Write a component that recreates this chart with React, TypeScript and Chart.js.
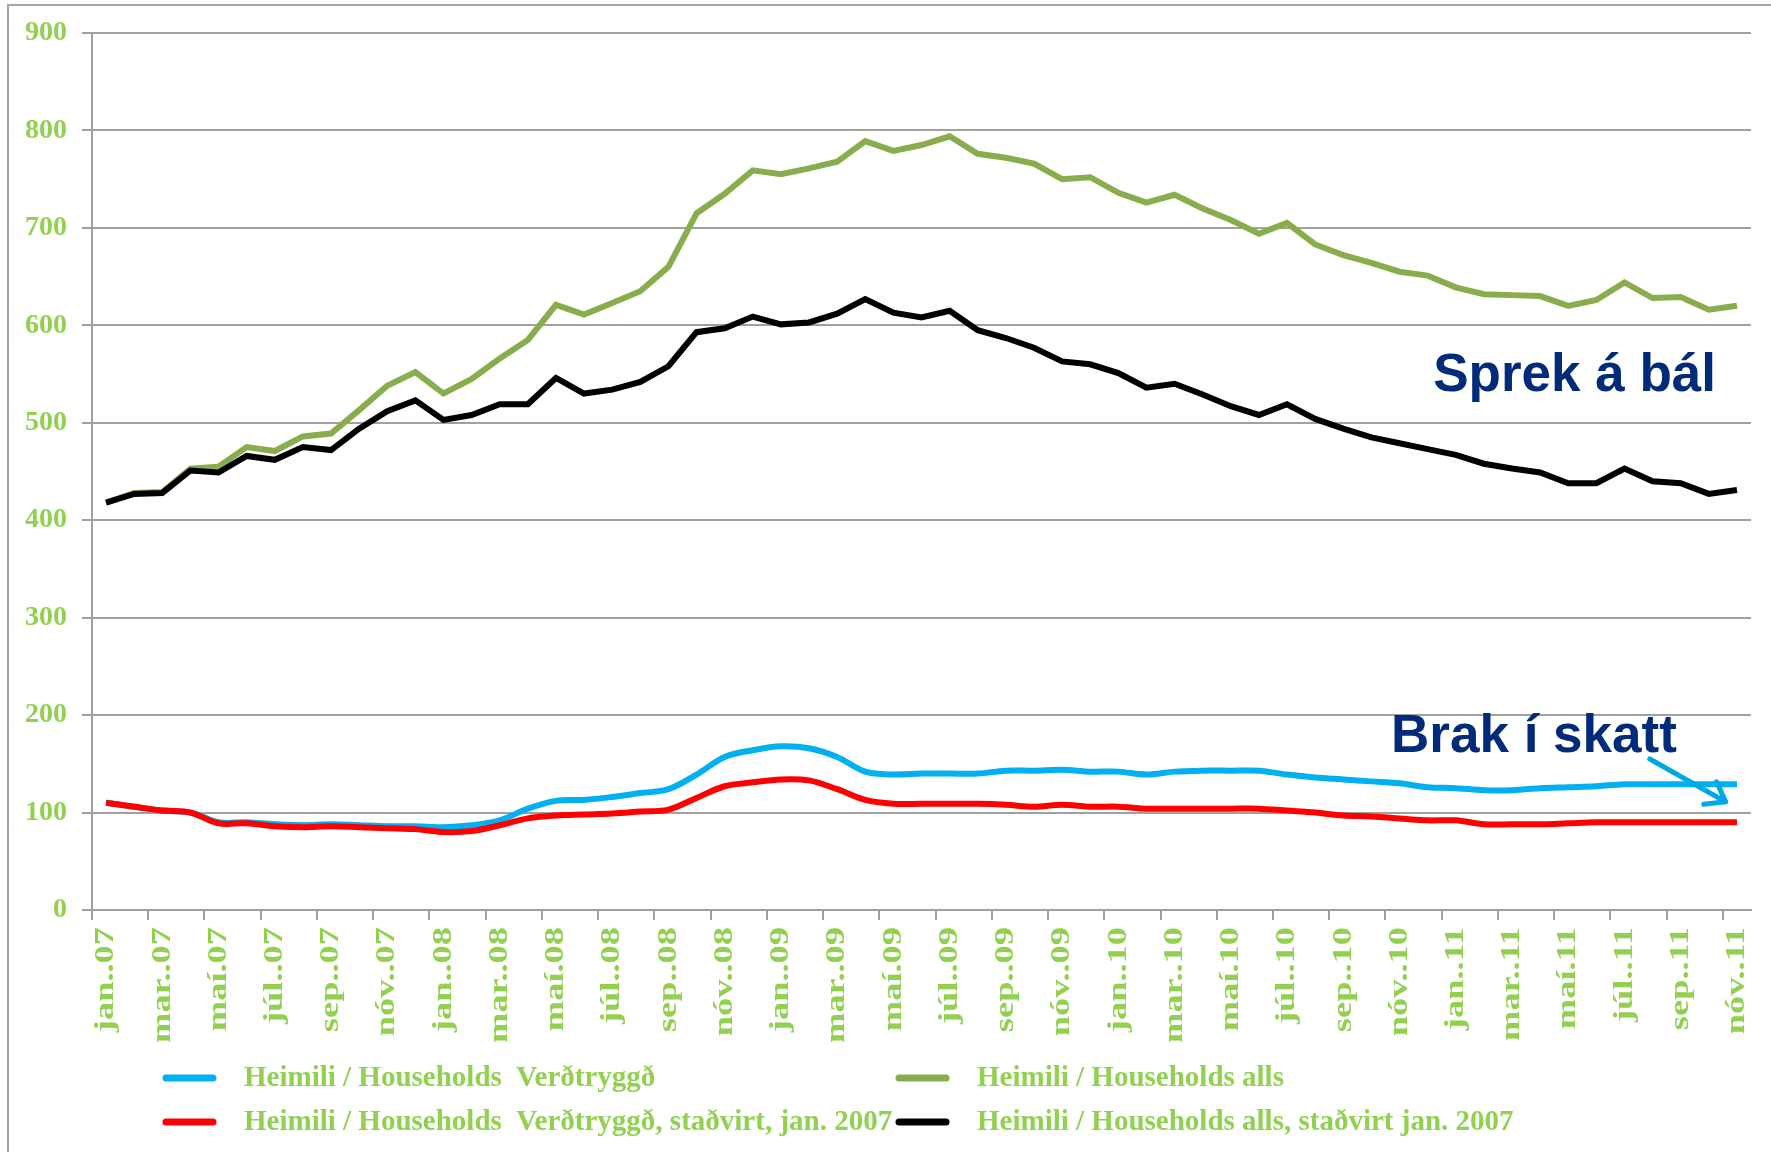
import React, { useEffect, useRef } from 'react';
import { Chart, registerables } from 'chart.js';

Chart.register(...registerables);

// ---- Data ----
const MONTHS = ['jan.', 'feb.', 'mar.', 'apr.', 'maí', 'jún.', 'júl.', 'ágú.', 'sep.', 'okt.', 'nóv.', 'des.'];
const YEARS = ['07', '08', '09', '10', '11'];
const LABELS = YEARS.flatMap((y) => MONTHS.map((m) => `${m}.${y}`)).slice(0, 59);

const ALLS = [
  418, 428, 429, 453, 455, 475, 471, 486, 489, 513, 538, 552, 530, 545, 566, 585, 621, 611, 623, 635,
  660, 715, 735, 759, 755, 761, 768, 789, 779, 785, 794, 776, 772, 766, 750, 752, 736, 726, 734, 720,
  708, 694, 705, 683, 672, 664, 655, 651, 639, 632, 631, 630, 620, 626, 644, 628, 629, 616, 620,
];
const ALLS_STADVIRT = [
  418, 427, 428, 451, 449, 466, 462, 475, 472, 494, 512, 523, 503, 508, 519, 519, 546, 530, 534, 542,
  558, 593, 597, 609, 601, 603, 612, 627, 613, 608, 615, 595, 587, 577, 563, 560, 551, 536, 540, 529,
  517, 508, 519, 504, 494, 485, 479, 473, 467, 458, 453, 449, 438, 438, 453, 440, 438, 427, 431,
];
const VERDTRYGGD = [
  110, 106, 102, 100, 90, 90, 88, 87, 88, 87, 86, 86, 85, 87, 92, 104, 112, 113, 116, 120,
  124, 139, 157, 164, 168, 166, 157, 142, 139, 140, 140, 140, 143, 143, 144, 142, 142, 139, 142, 143,
  143, 143, 139, 136, 134, 132, 130, 126, 125, 123, 123, 125, 126, 127, 129, 129, 129, 129, 129,
];
const VERDTRYGGD_STADVIRT = [
  110, 106, 102, 100, 89, 89, 86, 85, 86, 85, 84, 83, 80, 81, 87, 94, 97, 98, 99, 101,
  103, 115, 127, 131, 134, 133, 124, 113, 109, 109, 109, 109, 108, 106, 108, 106, 106, 104, 104, 104,
  104, 104, 102, 100, 97, 96, 94, 92, 92, 88, 88, 88, 89, 90, 90, 90, 90, 90, 90,
];

const NAME_VERD = 'Heimili / Households  Verðtryggð';
const NAME_ALLS = 'Heimili / Households alls';
const NAME_VERD_ST = 'Heimili / Households  Verðtryggð, staðvirt, jan. 2007';
const NAME_ALLS_ST = 'Heimili / Households alls, staðvirt jan. 2007';

const ANNOT_TOP = 'Sprek á bál';
const ANNOT_BOTTOM = 'Brak í skatt';

const Y_MIN = 0;
const Y_MAX = 900;
const Y_STEP = 100;

// ---- Styles ----
const C_GREEN = '#89AD4C';
const C_BLACK = '#000000';
const C_BLUE = '#00B0F0';
const C_RED = '#FF0000';
const C_TEXT = '#92D050';
const C_GRID = '#A0A0A0';
const C_NAVY = '#002A7A';
const C_ARROW = '#00A8E4';
const SERIF = "'Liberation Serif', 'Times New Roman', serif";
const SANS = "'Liberation Sans', Arial, sans-serif";

export default function App() {
  const canvasRef = useRef<HTMLCanvasElement | null>(null);

  useEffect(() => {
    const canvas = canvasRef.current;
    if (!canvas) return;

    const framePlugin = {
      id: 'frame',
      beforeDraw(chart: any) {
        const ctx = chart.ctx;
        ctx.save();
        ctx.fillStyle = '#ffffff';
        ctx.fillRect(0, 0, chart.width, chart.height);
        ctx.strokeStyle = '#A6A6A6';
        ctx.lineWidth = 2;
        ctx.beginPath();
        ctx.moveTo(8, chart.height);
        ctx.lineTo(8, 5);
        ctx.lineTo(chart.width, 5);
        ctx.stroke();
        ctx.restore();
      },
    };

    const xLabelPlugin = {
      id: 'xLabels',
      afterDraw(chart: any) {
        const ctx = chart.ctx;
        const xs = chart.scales.x;
        const yTop = chart.chartArea.bottom + 17;
        ctx.save();
        ctx.fillStyle = C_TEXT;
        ctx.font = `bold 28px ${SERIF}`;
        ctx.textAlign = 'right';
        ctx.textBaseline = 'middle';
        for (let i = 0; i < LABELS.length; i += 2) {
          const x = xs.getPixelForValue(i);
          ctx.save();
          ctx.translate(x, yTop);
          ctx.rotate(-Math.PI / 2);
          ctx.scale(1.3, 1);
          ctx.fillText(LABELS[i], 0, 0);
          ctx.restore();
        }
        ctx.restore();
      },
    };

    const annotationPlugin = {
      id: 'annotations',
      afterDraw(chart: any) {
        const ctx = chart.ctx;
        const xs = chart.scales.x;
        const ys = chart.scales.y;
        ctx.save();
        ctx.fillStyle = C_NAVY;
        ctx.font = `bold 53px ${SANS}`;
        ctx.textAlign = 'left';
        ctx.textBaseline = 'alphabetic';
        ctx.fillText(ANNOT_TOP, xs.getPixelForValue(47.2), ys.getPixelForValue(533));
        ctx.fillText(ANNOT_BOTTOM, xs.getPixelForValue(45.7), ys.getPixelForValue(162));

        const x1 = xs.getPixelForValue(54.9);
        const y1 = ys.getPixelForValue(155);
        const x2 = xs.getPixelForValue(57.6);
        const y2 = ys.getPixelForValue(111);
        const ang = Math.atan2(y2 - y1, x2 - x1);
        const len = 22;
        const spread = (36 * Math.PI) / 180;
        ctx.strokeStyle = C_ARROW;
        ctx.lineWidth = 5;
        ctx.lineCap = 'round';
        ctx.lineJoin = 'round';
        ctx.beginPath();
        ctx.moveTo(x1, y1);
        ctx.lineTo(x2, y2);
        ctx.moveTo(x2 - len * Math.cos(ang - spread), y2 - len * Math.sin(ang - spread));
        ctx.lineTo(x2, y2);
        ctx.lineTo(x2 - len * Math.cos(ang + spread), y2 - len * Math.sin(ang + spread));
        ctx.stroke();
        ctx.restore();
      },
    };

    const legendPlugin = {
      id: 'customLegend',
      afterDraw(chart: any) {
        const ctx = chart.ctx;
        const items = [
          { ds: 1, x: 166, y: 1078 },
          { ds: 3, x: 899, y: 1078 },
          { ds: 0, x: 166, y: 1122 },
          { ds: 2, x: 899, y: 1122 },
        ];
        ctx.save();
        ctx.font = `bold 29px ${SERIF}`;
        ctx.textBaseline = 'middle';
        ctx.textAlign = 'left';
        for (const it of items) {
          const d = chart.data.datasets[it.ds];
          ctx.strokeStyle = d.borderColor;
          ctx.lineWidth = 7;
          ctx.lineCap = 'round';
          ctx.beginPath();
          ctx.moveTo(it.x, it.y);
          ctx.lineTo(it.x + 47, it.y);
          ctx.stroke();
          ctx.fillStyle = C_TEXT;
          ctx.fillText(d.label, it.x + 78, it.y + 1);
        }
        ctx.restore();
      },
    };

    const chart = new Chart(canvas, {
      type: 'line',
      data: {
        labels: LABELS,
        datasets: [
          {
            label: NAME_VERD_ST,
            data: VERDTRYGGD_STADVIRT,
            borderColor: C_RED,
            backgroundColor: C_RED,
            borderWidth: 6,
            pointRadius: 0,
            tension: 0.35,
            fill: false,
          },
          {
            label: NAME_VERD,
            data: VERDTRYGGD,
            borderColor: C_BLUE,
            backgroundColor: C_BLUE,
            borderWidth: 6,
            pointRadius: 0,
            tension: 0.35,
            fill: false,
          },
          {
            label: NAME_ALLS_ST,
            data: ALLS_STADVIRT,
            borderColor: C_BLACK,
            backgroundColor: C_BLACK,
            borderWidth: 6,
            pointRadius: 0,
            tension: 0,
            fill: false,
          },
          {
            label: NAME_ALLS,
            data: ALLS,
            borderColor: C_GREEN,
            backgroundColor: C_GREEN,
            borderWidth: 6,
            pointRadius: 0,
            tension: 0,
            fill: false,
          },
        ],
      },
      options: {
        responsive: false,
        maintainAspectRatio: false,
        animation: false,
        events: [],
        layout: { padding: { left: 0, top: 33, right: 20, bottom: 0 } },
        plugins: {
          legend: { display: false },
          tooltip: { enabled: false },
          title: { display: false },
        },
        scales: {
          x: {
            type: 'category',
            offset: true,
            afterFit(scale: any) {
              scale.height = 242;
            },
            grid: {
              offset: true,
              drawOnChartArea: false,
              drawTicks: true,
              tickLength: 10,
              lineWidth: 2,
              color: (c: any) => (c.index % 2 === 0 ? C_GRID : 'rgba(0,0,0,0)'),
            },
            border: { display: true, color: C_GRID, width: 2 },
            ticks: { display: false, autoSkip: false },
          },
          y: {
            min: Y_MIN,
            max: Y_MAX,
            afterFit(scale: any) {
              scale.width = 92;
            },
            grid: {
              color: C_GRID,
              lineWidth: 2,
              tickLength: 10,
              drawTicks: true,
            },
            border: { display: true, color: C_GRID, width: 2 },
            ticks: {
              stepSize: Y_STEP,
              padding: 15,
              color: C_TEXT,
              font: { family: SERIF, size: 28, weight: 'bold' },
            },
          },
        },
      },
      plugins: [framePlugin, xLabelPlugin, annotationPlugin, legendPlugin],
    } as any);

    return () => {
      chart.destroy();
    };
  }, []);

  return (
    <div style={{ position: 'fixed', left: 0, top: 0, width: 1771, height: 1152, background: '#ffffff' }}>
      <canvas ref={canvasRef} width={1771} height={1152} style={{ display: 'block', width: 1771, height: 1152 }} />
    </div>
  );
}
